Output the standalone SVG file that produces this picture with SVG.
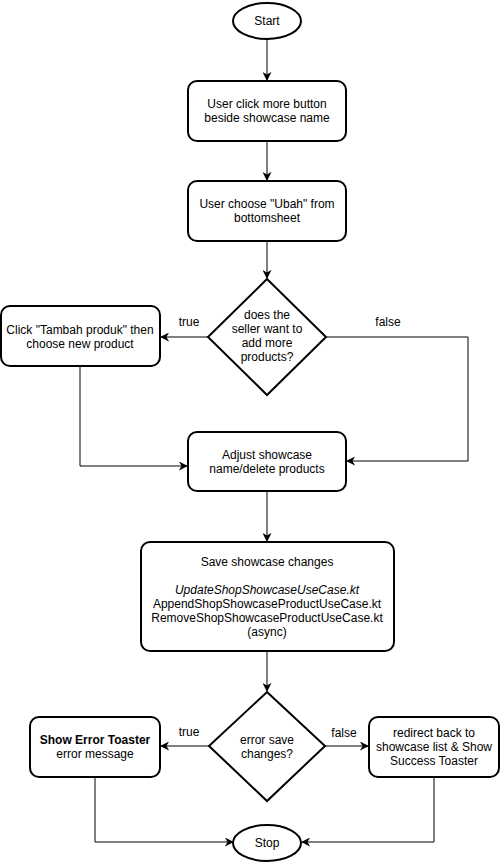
<svg xmlns="http://www.w3.org/2000/svg" width="501" height="863" viewBox="0 0 501 863">
  <style>
    .shape { fill: #ffffff; stroke: #000000; stroke-width: 2; }
    .edge { fill: none; stroke: #000000; stroke-width: 1; }
    text { font-family: "Liberation Sans", Arial, sans-serif; font-size: 12px; fill: #000000; text-anchor: middle; }
    .lbl { font-size: 12px; }
  </style>
  <defs>
    <marker id="arrow" viewBox="0 0 10 10" refX="9" refY="5" markerWidth="9" markerHeight="9" markerUnits="userSpaceOnUse" orient="auto">
      <path d="M0,0 L10,5 L0,10 L3,5 Z" fill="#000000"/>
    </marker>
  </defs>
  <rect width="501" height="863" fill="#ffffff"/>

  <g id="connectors">
    <path class="edge" d="M267,40 V80" marker-end="url(#arrow)"/>
    <path class="edge" d="M267,141 V180" marker-end="url(#arrow)"/>
    <path class="edge" d="M267,241 V278" marker-end="url(#arrow)"/>
    <path class="edge" d="M208,337 H161" marker-end="url(#arrow)"/>
    <text class="lbl" x="189" y="326">true</text>
    <path class="edge" d="M326,337 H468 V461 H347" marker-end="url(#arrow)"/>
    <text class="lbl" x="388" y="326">false</text>
    <path class="edge" d="M80,366 V466 H187" marker-end="url(#arrow)"/>
    <path class="edge" d="M267,491 V541" marker-end="url(#arrow)"/>
    <path class="edge" d="M267,651 V691" marker-end="url(#arrow)"/>
    <path class="edge" d="M209,746 H161" marker-end="url(#arrow)"/>
    <text class="lbl" x="189" y="736">true</text>
    <path class="edge" d="M325,746 H368" marker-end="url(#arrow)"/>
    <text class="lbl" x="344" y="737">false</text>
    <path class="edge" d="M95,777 V842 H233" marker-end="url(#arrow)"/>
    <path class="edge" d="M434,777 V842 H302" marker-end="url(#arrow)"/>
  </g>

  <g id="start">
    <ellipse class="shape" cx="267" cy="21" rx="34" ry="18"/>
    <text x="267" y="25">Start</text>
  </g>

  <g id="click-more">
    <rect class="shape" x="188" y="81" width="158" height="60" rx="9"/>
    <text x="267" y="108">User click more button</text>
    <text x="267" y="122">beside showcase name</text>
  </g>

  <g id="choose-ubah">
    <rect class="shape" x="188" y="181" width="158" height="60" rx="9"/>
    <text x="267" y="208">User choose "Ubah" from</text>
    <text x="267" y="222">bottomsheet</text>
  </g>

  <g id="add-more">
    <path class="shape" d="M267,279 L326,337 L267,395 L208,337 Z"/>
    <text x="267" y="319">does the</text>
    <text x="267" y="333">seller want to</text>
    <text x="267" y="347">add more</text>
    <text x="267" y="361">products?</text>
  </g>

  <g id="tambah-produk">
    <rect class="shape" x="1" y="306" width="159" height="60" rx="9"/>
    <text x="80" y="334">Click "Tambah produk" then</text>
    <text x="80" y="348">choose new product</text>
  </g>

  <g id="adjust">
    <rect class="shape" x="188" y="432" width="158" height="59" rx="9"/>
    <text x="267" y="459">Adjust showcase</text>
    <text x="267" y="473">name/delete products</text>
  </g>

  <g id="save">
    <rect class="shape" x="141" y="542" width="253" height="109" rx="9"/>
    <text x="267" y="566">Save showcase changes</text>
    <text x="267" y="594" font-style="italic">UpdateShopShowcaseUseCase.kt</text>
    <text x="267" y="608">AppendShopShowcaseProductUseCase.kt</text>
    <text x="267" y="622">RemoveShopShowcaseProductUseCase.kt</text>
    <text x="267" y="636">(async)</text>
  </g>

  <g id="error-check">
    <path class="shape" d="M267,692 L325,746 L267,801 L209,746 Z"/>
    <text x="267" y="744">error save</text>
    <text x="267" y="758">changes?</text>
  </g>

  <g id="error-toaster">
    <rect class="shape" x="30" y="717" width="130" height="60" rx="9"/>
    <text x="95" y="744" font-weight="bold">Show Error Toaster</text>
    <text x="95" y="758">error message</text>
  </g>

  <g id="success">
    <rect class="shape" x="369" y="717" width="130" height="60" rx="9"/>
    <text x="434" y="737">redirect back to</text>
    <text x="434" y="751">showcase list &amp; Show</text>
    <text x="434" y="765">Success Toaster</text>
  </g>

  <g id="stop">
    <ellipse class="shape" cx="267" cy="843" rx="34" ry="18"/>
    <text x="267" y="847">Stop</text>
  </g>
</svg>
